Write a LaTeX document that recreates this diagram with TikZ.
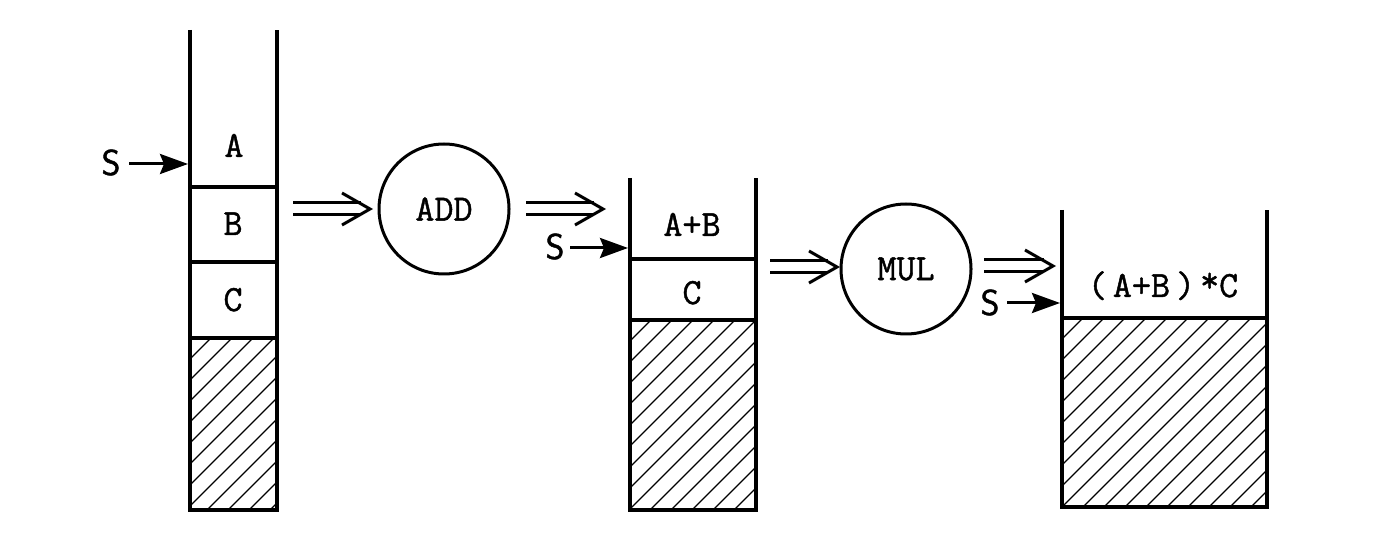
\documentclass[tikz,border=0pt]{standalone}
\usepackage{fontspec}
\newfontfamily\lblfamily{Latin Modern Mono}[FakeBold=1.2]
\newfontfamily\sfamilyS{Latin Modern Sans}[FakeBold=1.2]
\usetikzlibrary{arrows.meta,calc}
\newcommand\hatchbox[4]{%
  \begin{scope}
    \clip (#1,#2) rectangle (#3,#4);
    \foreach \k in {0,...,26}
      \draw[hatch] ({#1-(#4-#2)+21*\k},#4) -- ++(320,-320);
  \end{scope}}
\newcommand\dblarr[2]{%
  \draw[dbl] ($(#1)+(0,-6)$) -- ($(#2)+(-9,-6)$);
  \draw[dbl] ($(#1)+(0,6)$) -- ($(#2)+(-9,6)$);
  \draw[dbl,line join=miter] ($(#2)+(-28,-16)$) -- (#2) -- ($(#2)+(-28,16)$);}
\begin{document}
\begin{tikzpicture}[x=1pt,y=-1pt,
  wall/.style={line width=4pt},
  hatch/.style={line width=1.1pt},
  dbl/.style={line width=3pt},
  sarr/.style={line width=3pt,-{Stealth[length=28pt,width=20pt,inset=4pt]}},
  lbl/.style={inner sep=0pt,anchor=base,font=\fontsize{37}{40}\selectfont\lblfamily},
  slbl/.style={inner sep=0pt,anchor=base,font=\fontsize{36}{40}\selectfont\sfamilyS},
  op/.style={circle,draw,line width=3pt,minimum size=130pt,inner sep=0pt,
             font=\fontsize{37}{40}\selectfont\lblfamily}]
\useasboundingbox (0,0) rectangle (1389,534);

% ---- stack 1
\hatchbox{190}{338}{277}{510}
\draw[wall] (190,30) -- (190,510) -- (277,510) -- (277,30);
\draw[wall] (190,187) -- (277,187) (190,262) -- (277,262) (190,338) -- (277,338);
\node[lbl] (A1) at (234,157) {A};
\node[lbl] (B1) at (233,235) {B};
\node[lbl] (C1) at (233,311) {C};
\coordinate (w1) at (188,164);
\node[slbl] (S1) at (111,175) {S};
\coordinate (s1a) at (129,164);
\draw[sarr] (s1a) -- (w1);

% ---- ADD
\node[op] (add) at (444,209) {ADD};
\coordinate (d1s) at (293,209);
\coordinate (d1e) at (370,209);
\dblarr{d1s}{d1e}
\coordinate (d2s) at (526,209);
\coordinate (d2e) at (603,209);
\dblarr{d2s}{d2e}

% ---- stack 2
\hatchbox{630}{320}{756}{510}
\draw[wall] (630,178) -- (630,510) -- (756,510) -- (756,178);
\draw[wall] (630,259) -- (756,259) (630,320) -- (756,320);
\node[lbl] (AB2) at (692,236) {A+B};
\node[lbl] (C2) at (692,304) {C};
\node[slbl] (S2) at (555,259) {S};
\coordinate (s2a) at (570,248);
\coordinate (w2) at (628,248);
\draw[sarr] (s2a) -- (w2);

% ---- MUL
\node[op] (mul) at (906,269) {MUL};
\coordinate (d3s) at (770,267);
\coordinate (d3e) at (837,267);
\dblarr{d3s}{d3e}
\coordinate (d4s) at (984,266);
\coordinate (d4e) at (1053,266);
\dblarr{d4s}{d4e}

% ---- stack 3
\hatchbox{1062}{318}{1267}{507}
\draw[wall] (1062,210) -- (1062,507) -- (1267,507) -- (1267,210);
\draw[wall] (1062,318) -- (1267,318);
\node[lbl] (ABC3) at (1163,297) {(\kern6pt A+B\kern6pt)\kern5pt\raisebox{5pt}{*}C};
\node[slbl] (S3) at (990,315) {S};
\coordinate (s3a) at (1007,303);
\coordinate (w3) at (1060,303);
\draw[sarr] (s3a) -- (w3);
\end{tikzpicture}
\end{document}
